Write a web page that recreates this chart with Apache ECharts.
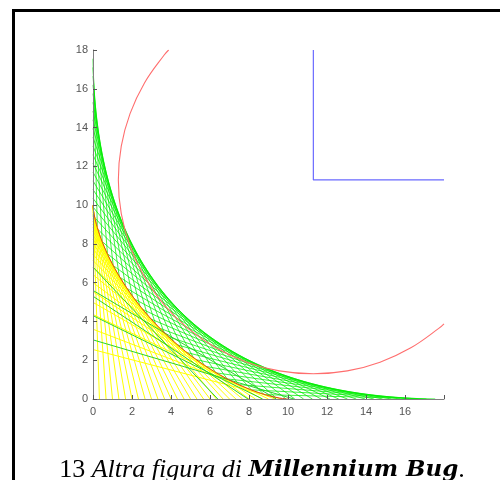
<!DOCTYPE html>
<html><head><meta charset="utf-8">
<script src="https://cdn.jsdelivr.net/npm/echarts@6/dist/echarts.min.js"></script>
<style>html,body{margin:0;padding:0;background:#fff}#c{width:500px;height:480px}</style>
</head><body><div id="c"></div>
<script>
// tick labels
const xTickLabels = ['0','2','4','6','8','10','12','14','16'];
const yTickLabels = ['0','2','4','6','8','10','12','14','16','18'];

// green band lines: y-intercepts and x-intercepts
const greenA = [0.45,0.9,1.35,1.8,2.25,2.7,3.15,3.6,4.05,4.5,4.95,5.4,5.85,6.3,6.75,7.2,7.65,8.1,8.55,9.0,9.45,9.9,10.35,10.8,11.25,11.7,12.15,12.6,13.05,13.5,13.95,14.4,14.85,15.3,15.75,16.2,16.65,17.1,17.55];
const greenB = [17.55,17.1,16.65,16.2,15.75,15.3,14.85,14.4,13.95,13.5,13.05,12.6,12.15,11.7,11.25,10.8,10.35,9.9,9.45,9.0,8.55,8.1,7.65,7.2,6.75,6.3,5.85,5.4,4.95,4.5,4.05,3.6,3.15,2.7,2.25,1.8,1.35,0.9,0.45];

// long green lines through the yellow region
const longA = [3.05, 4.3, 5.3, 5.6, 6.8];
const longB = [10.3, 8.7, 7.95, 9.4, 6.4];

// yellow lines: x-intercepts and y-intercepts
const yellowB = [0.33,0.67,1.0,1.33,1.67,2.0,2.33,2.67,3.0,3.33,3.67,4.0,4.33,4.67,5.0,5.33,5.67,6.0,6.33,6.67,7.0,7.33,7.67,8.0,8.33,8.67,9.0,9.33,9.67];
const yellowA = [9.995,9.978,9.95,9.911,9.86,9.798,9.725,9.637,9.539,9.429,9.302,9.165,9.014,8.842,8.66,8.461,8.237,8.0,7.741,7.451,7.141,6.802,6.417,6.0,5.533,4.983,4.359,3.599,2.55];

// inner curve (red)
const astroidX = [0,0.0066,0.052,0.173,0.4,0.755,1.25,1.887,2.656,3.536,4.495,5.497,6.495,7.444,8.298,9.012,9.551,9.886,10];
const astroidY = [10,9.886,9.551,9.012,8.298,7.444,6.495,5.497,4.495,3.536,2.656,1.887,1.25,0.755,0.4,0.173,0.052,0.0066,0];

// circle arc
const circleX = [3.88,3.64,2.64,1.90,1.45,1.30,1.45,1.90,2.64,3.64,4.87,6.30,7.88,9.56,11.30,13.04,14.72,16.30,17.73,18.0];
const circleY = [18.0,17.73,16.30,14.72,13.04,11.30,9.56,7.88,6.30,4.87,3.64,2.64,1.90,1.45,1.30,1.45,1.90,2.64,3.64,3.88];

// blue corner
const blueX = [11.3, 11.3, 18];
const blueY = [18, 11.3, 11.3];

const zip = (xs, ys) => xs.map((x, i) => [x, ys[i]]);
const segs = (as, bs) => as.map((a, i) => ({coords: [[0, a], [bs[i], 0]]}));

const chart = echarts.init(document.getElementById('c'), null, {renderer: 'canvas'});
const axisCommon = {
  type: 'value', min: 0, max: 18, interval: 2, z: 10,
  axisLine: {show: true, lineStyle: {color: '#808080', width: 1}},
  axisTick: {show: true, inside: true, length: 4, lineStyle: {color: '#555'}},
  splitLine: {show: false},
};
chart.setOption({
  animation: false,
  backgroundColor: '#fff',
  grid: {left: 93, top: 50, width: 351, height: 349, containLabel: false, outerBoundsMode: 'none'},
  xAxis: Object.assign({}, axisCommon, {
    showMaxLabel: false,
    axisLabel: {color: '#555', fontSize: 11, fontFamily: 'Liberation Sans', margin: 7,
      formatter: v => xTickLabels[xTickLabels.indexOf(String(v))] || ''}
  }),
  yAxis: Object.assign({}, axisCommon, {
    axisLabel: {color: '#555', fontSize: 11, fontFamily: 'Liberation Sans', margin: 5,
      formatter: v => yTickLabels[yTickLabels.indexOf(String(v))] || ''}
  }),
  series: [
    {type: 'lines', coordinateSystem: 'cartesian2d', z: 1, silent: true,
      lineStyle: {color: '#00ee00', width: 0.75, opacity: 1}, data: segs(greenA, greenB)},
    {type: 'line', z: 2, silent: true, symbol: 'none', smooth: 0.3,
      lineStyle: {width: 0}, areaStyle: {color: '#ffffff', opacity: 1},
      data: zip(astroidX, astroidY)},
    {type: 'lines', coordinateSystem: 'cartesian2d', z: 3, silent: true,
      lineStyle: {color: '#ffff00', width: 1, opacity: 1}, data: segs(yellowA, yellowB)},
    {type: 'lines', coordinateSystem: 'cartesian2d', z: 4, silent: true,
      lineStyle: {color: '#2ad42a', width: 1, opacity: 1}, data: segs(longA, longB)},
    {type: 'line', z: 5, silent: true, symbol: 'none', smooth: 0.3,
      lineStyle: {color: '#d8401e', width: 1}, data: zip(astroidX, astroidY)},
    {type: 'line', z: 6, silent: true, symbol: 'none', smooth: 0.4,
      lineStyle: {color: '#ff6e6e', width: 1.1}, data: zip(circleX, circleY)},
    {type: 'line', z: 6, silent: true, symbol: 'none',
      lineStyle: {color: '#6a6aff', width: 1.2}, data: zip(blueX, blueY)}
  ],
  graphic: [
    {type: 'polyline', z: 100, shape: {points: [[13.5, 480], [13.5, 10.5], [500, 10.5]]},
      style: {stroke: '#000', lineWidth: 3, fill: null}},
    {type: 'text', z: 100, x: 262, y: 470,
      style: {
        text: '{r|13 }{i|Altra figura di }{b|Millennium Bug}{r|.}',
        align: 'center', verticalAlign: 'middle',
        rich: {
          r: {fontFamily: 'Liberation Serif', fontSize: 26, fill: '#000'},
          i: {fontFamily: 'Liberation Serif', fontSize: 26, fontStyle: 'italic', fill: '#000'},
          b: {fontFamily: 'DejaVu Serif', fontSize: 23, fontStyle: 'italic', fontWeight: 'bold', fill: '#000'}
        }
      }}
  ]
});
</script></body></html>
